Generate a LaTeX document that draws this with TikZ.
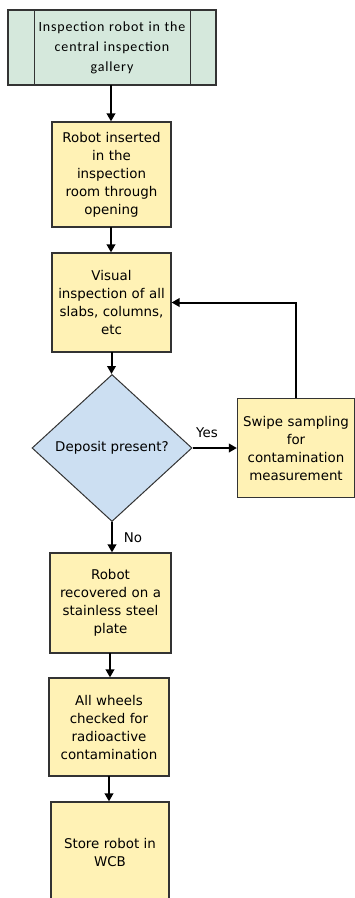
\documentclass[tikz,border=0pt]{standalone}
\usepackage{fontspec}
\setmainfont{DejaVu Sans}
\newfontfamily\topfont[LetterSpace=6,WordSpace=0.6]{Carlito}
\usetikzlibrary{arrows.meta,shapes.geometric}
\definecolor{topgreen}{HTML}{D5E8DC}
\definecolor{boxyellow}{HTML}{FFF2B5}
\definecolor{diablue}{HTML}{CCDFF2}
\definecolor{edgegray}{HTML}{333333}
\begin{document}
\begin{tikzpicture}[x=1pt,y=-1pt,
  stepbox/.style={draw=edgegray,line width=1.2pt,fill=boxyellow,rectangle,
    align=center,text width=116pt,inner sep=0pt,
    font=\fontsize{13.4}{18}\selectfont},
  flowarrow/.style={line width=2pt,-{Triangle[length=8pt,width=8.5pt]}},
  lbl/.style={font=\fontsize{13.4}{15}\selectfont,inner sep=0pt}]
\useasboundingbox (0,0) rectangle (355,898);
% top predefined process
\node[draw=edgegray,line width=1.2pt,fill=topgreen,minimum width=208pt,minimum height=75pt,
  inner sep=0pt,align=center,text width=150pt,font=\topfont\fontsize{14}{20}\selectfont]
  (top) at (112,47.5) {Inspection robot in the\\central inspection\\gallery};
\draw[edgegray,line width=1.2pt] ([xshift=27pt]top.north west) coordinate (tl) -- (tl |- top.south);
\draw[edgegray,line width=1.2pt] ([xshift=-26pt]top.north east) coordinate (tr) -- (tr |- top.south);
% boxes
\node[stepbox,minimum width=119pt,minimum height=105pt] (b2) at (111.5,174.5)
  {Robot inserted\\in the\\inspection\\room through\\opening};
\node[stepbox,minimum width=119pt,minimum height=99pt] (b3) at (111.5,302.5)
  {Visual\\inspection of all\\slabs, columns,\\etc};
\node[draw=edgegray,line width=1pt,fill=diablue,diamond,aspect=1.088,
  minimum width=160pt,minimum height=147pt,inner sep=0pt,
  font=\fontsize{13.4}{15}\selectfont] (d) at (112,448) {Deposit present?};
\node[stepbox,minimum width=117pt,minimum height=99pt] (sw) at (296,448)
  {Swipe sampling\\for\\contamination\\measurement};
\node[stepbox,minimum width=121pt,minimum height=100pt] (b4) at (110.5,603)
  {Robot\\recovered on a\\stainless steel\\plate};
\node[stepbox,minimum width=120pt,minimum height=98pt] (b5) at (109,727)
  {All wheels\\checked for\\radioactive\\contamination};
\node[stepbox,minimum width=118pt,minimum height=100pt] (b6) at (110,852)
  {Store robot in\\WCB};
% connectors
\draw[flowarrow] (111,85) coordinate (s1) -- (s1 |- b2.north);
\draw[flowarrow] (111,227) coordinate (s2) -- (s2 |- b3.north);
\draw[flowarrow] (111.5,352) coordinate (s3) -- (s3 |- d.north);
\draw[flowarrow] (d.east) -- (sw.west);
\draw[flowarrow] (sw.north) |- (b3.east);
\draw[flowarrow] (d.south) -- (d.south |- b4.north);
\draw[flowarrow] (110,653) coordinate (s4) -- (s4 |- b5.north);
\draw[flowarrow] (109,776) coordinate (s5) -- (s5 |- b6.north);
% labels
\node[lbl] (yes) at (207,433) {Yes};
\node[lbl] (no) at (133,538) {No};
\end{tikzpicture}
\end{document}
